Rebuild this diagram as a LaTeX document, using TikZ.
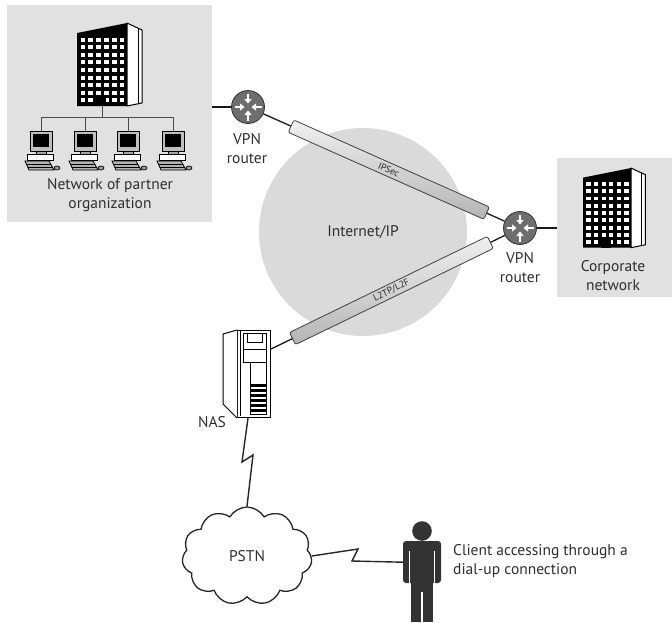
\documentclass[tikz,border=0pt]{standalone}
\usepackage{fontspec}
\setmainfont{PT Sans}
\usetikzlibrary{shapes.symbols,arrows.meta,calc}
\definecolor{boxgray}{HTML}{E1E1E1}
\definecolor{netgray}{HTML}{DADADA}
\definecolor{routergray}{HTML}{6E6E6E}
\definecolor{ink}{HTML}{2E2E2E}
\definecolor{tubelight}{HTML}{F0F0F0}
\definecolor{tubedark}{HTML}{B4B4B4}
\definecolor{figure}{HTML}{333333}

\tikzset{
  txt/.style={font=\fontsize{15.5}{19}\selectfont, text=ink, align=center, inner sep=0pt},
  link/.style={draw=black!90, line width=1.3pt},
  bolt/.style={draw=black!85, line width=1.4pt, line join=miter},
  bus/.style={draw=black!70, line width=0.9pt},
  router/.style={circle, fill=routergray, draw=black!80, line width=0.8pt,
    minimum size=33pt, inner sep=0pt},
  tube/.style={rectangle, rounded corners=2pt, minimum height=13.5pt, inner sep=0pt,
    draw=black!75, line width=0.8pt, top color=tubelight, bottom color=tubedark,
    font=\fontsize{9.5}{9.5}\selectfont, text=black!85},
  greybox/.style={rectangle, fill=boxgray, inner sep=0pt, anchor=north west},
  % office tower, origin at the top left corner of its front face
  building/.pic={
    \fill[black] (0,10) -- (50,0) -- (50,83) -- (0,83) -- cycle;
    \foreach \i in {0,...,5}{
      \foreach \j in {0,...,8}{
        \fill[white] ({3.5+\i*7.9},{14.5+\j*7.6}) rectangle ++(4.4,4);
      }
    }
    \fill[black] (19,75) rectangle (29,83);
    \draw[black, line width=1pt, fill=white, line join=round]
      (50,0) -- (65,7) -- (65,80) -- (50,83) -- cycle;
    \draw[black, line width=0.8pt] (61,5) -- (61,81);
  },
  % desktop workstation, origin at the top centre of its monitor
  workstation/.pic={
    \draw[black, line width=0.8pt, fill=black!25] (-11,0) rectangle (11,20);
    \fill[black] (-8,3) rectangle (8,16);
    \draw[black, line width=0.8pt, fill=black!35] (-5,20) rectangle (5,23);
    \draw[black, line width=0.8pt, fill=white] (-14,23) rectangle (12,29);
    \draw[black, line width=0.8pt, fill=black!30]
      (-16,30) -- (8,30) -- (13,39) -- (-12,39) -- cycle;
    \draw[black, line width=0.6pt] (-14,33) -- (10,33);
    \draw[black, line width=0.6pt] (-13,36) -- (11.5,36);
    \draw[black, line width=0.7pt, fill=black!40] (16,37) ellipse (3 and 2);
  },
  % four inward arrows of the router symbol
  routerarrows/.pic={
    \foreach \a in {0,90,180,270}{
      \draw[white, line width=2.2pt, -{Triangle[width=7pt,length=4.5pt]}, rotate=\a]
        (0,-13.5) -- (0,-3.5);
    }
  }
}

\begin{document}
\begin{tikzpicture}[x=1pt,y=-1pt]
\useasboundingbox (0,0) rectangle (672,622);

% background areas
\node[greybox, minimum width=205pt, minimum height=217pt] (partner) at (7,5) {};
\node[greybox, minimum width=115pt, minimum height=139pt] (corp) at (557,158) {};
\node[circle, fill=netgray, minimum size=208pt, inner sep=0pt, txt] (inet) at (363,232) {Internet/IP};

% partner network: tower and workstations on a bus
\pic at (77,23) {building};
\coordinate (tower) at (102,106);
\coordinate (busL) at (41,117);
\coordinate (busR) at (173,117);
\coordinate (pc1) at (41,131);
\coordinate (pc2) at (85,131);
\coordinate (pc3) at (128,131);
\coordinate (pc4) at (173,131);
\draw[bus] (pc1) -- (busL) -- (busR) -- (pc4);
\draw[bus] (pc2) -- (pc2 |- busL);
\draw[bus] (pc3) -- (pc3 |- busL);
\draw[bus] (tower) -- (tower |- busL);
\foreach \p in {pc1,pc2,pc3,pc4} \pic at (\p) {workstation};
\node[txt] (partnerlbl) at (110,195) {Network of partner\\organization};

% corporate network
\pic[scale=0.96] at (583,168) {building};
\node[txt] (corplbl) at (613,276) {Corporate\\network};

% VPN routers
\node[router] (r1) at (248,107) {};
\pic at (r1) {routerarrows};
\node[txt] (r1lbl) at (247,149) {VPN\\router};
\node[router] (r2) at (520,228) {};
\pic at (r2) {routerarrows};
\node[txt] (r2lbl) at (520,268) {VPN\\router};

\draw[link] (r1.west) -- (r1.west -| partner.east);
\draw[link] (r2.east) -- (r2.east -| corp.west);

% network access server
\node[draw=black, line width=1pt, fill=white, minimum width=33pt, minimum height=87pt,
      inner sep=0pt, anchor=north west] (nas) at (237,330) {};
\draw[black, line width=1pt, fill=white, line join=round]
  (nas.north west) -- ++(-14,4) -- ++(0,70) -- (nas.south west);
\draw[black, line width=0.8pt] (240,331) -- (240,416);
\draw[black, line width=0.8pt] (243,333) rectangle (266,349);
\draw[black, line width=0.8pt] (243,349) rectangle (266,362);
\draw[black, line width=0.6pt] (247,333) -- (247,342) -- (262,342) -- (262,333);
\draw[black, line width=0.8pt] (250,362) rectangle (266,414);
\foreach \k in {0,...,5} \fill[black] (250,{384+\k*5}) rectangle (266,{386.5+\k*5});
\node[txt, anchor=center] (naslbl) at (212,422) {NAS};
\coordinate (nasport) at ($(nas.north east)+(0,19)$);
\coordinate (nasbase) at ($(nas.south west)+(11,0)$);

% tunnels
\draw[link] (r1) -- node[tube, sloped, pos=0.52, minimum width=214pt] (ipsec) {IPSec} (r2);
\draw[link] (nasport) -- node[tube, sloped, pos=0.515, minimum width=220pt] (l2tp) {L2TP/L2F} (r2);

% telephone network and dial-up client
\node[cloud, cloud puffs=11, cloud puff arc=120, aspect=1.3, draw=black!85, line width=1.3pt,
      fill=white, minimum width=130pt, minimum height=98pt, txt] (pstn) at (247,556) {PSTN};

\node[minimum width=39pt, minimum height=42pt, inner sep=0pt, anchor=north west] (client) at (403,541) {};
\fill[figure] (422,531) circle (9.8);
\fill[figure, rounded corners=3pt] (403,541) rectangle (441,583);
\fill[figure] (411,575) rectangle (433,622);
\draw[white, line width=1.4pt] (409.5,551) -- (409.5,584);
\draw[white, line width=1.4pt] (434.5,551) -- (434.5,584);
\draw[white, line width=1.4pt] (422,592) -- (422,623);
\node[txt, align=left, anchor=west] (clientlbl) at (453,561) {Client accessing through a\\dial-up connection};

% dial-up links
\draw[bolt] (nasbase) -- (242,462) -- (253,455) -- (pstn.north);
\draw[bolt] (pstn.east) -- (358,549) -- (352,561) -- (client.west);

\end{tikzpicture}
\end{document}
